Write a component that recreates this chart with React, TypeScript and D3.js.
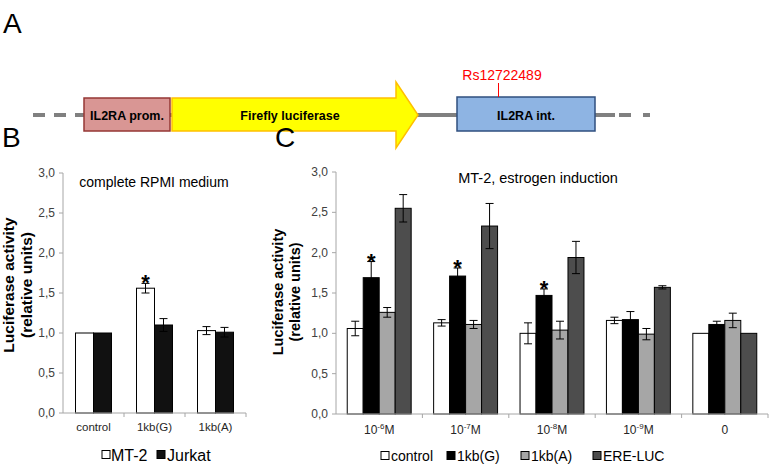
import React from 'react';
import * as d3 from 'd3';

// panel B data
const groupsB = ['control', '1kb(G)', '1kb(A)'];
const seriesB = ['MT-2', 'Jurkat'];
const mt2Values = [1.0, 1.56, 1.03];
const mt2Err = [0, 0.06, 0.05];
const jurkatValues = [1.0, 1.1, 1.01];
const jurkatErr = [0, 0.08, 0.06];
const mt2Stars = [false, true, false];

// panel C data
const doses = ['1e-6', '1e-7', '1e-8', '1e-9', '0'];
const doseExp = ['-6', '-7', '-8', '-9', ''];
const seriesC = ['control', '1kb(G)', '1kb(A)', 'ERE-LUC'];
const controlValues = [1.06, 1.13, 1.0, 1.16, 1.0];
const controlErr = [0.09, 0.04, 0.13, 0.04, 0];
const kbGValues = [1.69, 1.71, 1.47, 1.17, 1.11];
const kbGErr = [0.2, 0.1, 0.08, 0.1, 0.04];
const kbAValues = [1.26, 1.11, 1.04, 0.99, 1.16];
const kbAErr = [0.06, 0.05, 0.11, 0.07, 0.09];
const ereValues = [2.55, 2.33, 1.94, 1.57, 1.0];
const ereErr = [0.17, 0.28, 0.2, 0.02, 0];
const kbGStars = [true, true, true, false, false];

const yTicks = [0, 0.5, 1, 1.5, 2, 2.5, 3];
const fmt = (v: number) => v.toFixed(1).replace('.', ',');

const FONT = 'Liberation Sans, Arial, sans-serif';
const AXIS = '#a6a6a6';

interface Bar {
  group: string;
  series: string;
  value: number;
  err: number;
  star: boolean;
  fill: string;
}

function BarPanel(props: {
  groups: string[];
  series: string[];
  bars: Bar[];
  x0: number;
  x1: number;
  yTop: number;
  yBottom: number;
  padding: number;
  tickLabel: (g: string, i: number) => React.ReactNode;
  tickY: number;
  tickSize: number;
}) {
  const { groups, series, bars, x0, x1, yTop, yBottom, padding } = props;
  const x = d3.scaleBand<string>().domain(groups).range([x0, x1]).paddingInner(padding).paddingOuter(padding / 2);
  const xs = d3.scaleBand<string>().domain(series).range([0, x.bandwidth()]);
  const y = d3.scaleLinear().domain([0, 3]).range([yBottom, yTop]);
  const step = x.step();
  return (
    <g fontFamily={FONT}>
      {/* y axis */}
      <line x1={x0} x2={x0} y1={y(3)} y2={y(0)} stroke={AXIS} />
      {yTicks.map((t) => (
        <g key={t}>
          <line x1={x0 - 4} x2={x0} y1={y(t)} y2={y(t)} stroke={AXIS} />
          <text x={x0 - 8} y={y(t) + 4} fontSize={12} textAnchor="end" fill="#404040">
            {fmt(t)}
          </text>
        </g>
      ))}
      {/* bars */}
      {bars.map((b, i) => {
        const bx = (x(b.group) as number) + (xs(b.series) as number);
        const bw = xs.bandwidth();
        const cx = bx + bw / 2;
        return (
          <g key={i}>
            <rect x={bx} y={y(b.value)} width={bw} height={y(0) - y(b.value)} fill={b.fill} stroke="#000" strokeWidth={1} />
            {b.err > 0 && (
              <g stroke="#000" strokeWidth={1}>
                <line x1={cx} x2={cx} y1={y(b.value + b.err)} y2={y(b.value - b.err)} />
                <line x1={cx - 4} x2={cx + 4} y1={y(b.value + b.err)} y2={y(b.value + b.err)} />
                <line x1={cx - 4} x2={cx + 4} y1={y(b.value - b.err)} y2={y(b.value - b.err)} />
              </g>
            )}
            {b.star && (
              <text x={cx} y={y(b.value + b.err) + 7} fontSize={22} fontWeight="bold" textAnchor="middle">
                *
              </text>
            )}
          </g>
        );
      })}
      {/* x axis */}
      <line x1={x0} x2={x1} y1={y(0)} y2={y(0)} stroke={AXIS} />
      {groups.map((g, i) => (
        <g key={g}>
          <line x1={x0 + step * (i + 1)} x2={x0 + step * (i + 1)} y1={y(0)} y2={y(0) + 4} stroke={AXIS} />
          <text x={(x(g) as number) + x.bandwidth() / 2} y={props.tickY} fontSize={props.tickSize} textAnchor="middle" fill="#262626">
            {props.tickLabel(g, i)}
          </text>
        </g>
      ))}
    </g>
  );
}

function YLabel({ x1, x2, cy, size }: { x1: number; x2: number; cy: number; size: number }) {
  return (
    <g fontFamily={FONT} fontWeight="bold" fontSize={size} textAnchor="middle" fill="#000">
      <text transform={`translate(${x1},${cy}) rotate(-90)`}>Luciferase activity</text>
      <text transform={`translate(${x2},${cy}) rotate(-90)`}>(relative units)</text>
    </g>
  );
}

function Legend({ items, fills, xs, textXs, y, size }: { items: string[]; fills: string[]; xs: number[]; textXs: number[]; y: number; size: number }) {
  return (
    <g fontFamily={FONT} fontSize={size} fill="#000">
      {items.map((s, i) => (
        <g key={s}>
          <rect x={xs[i]} y={y - 4.5} width={8} height={8} fill={fills[i]} stroke="#000" strokeWidth={1} />
          <text x={textXs[i]} y={y + size * 0.36}>{s}</text>
        </g>
      ))}
    </g>
  );
}

function Construct() {
  const ly = 115;
  return (
    <g fontFamily={FONT}>
      <text x={3} y={33} fontSize={28} fill="#000">A</text>
      {/* backbone */}
      <g stroke="#808080" strokeWidth={4}>
        <line x1={33} x2={84} y1={ly} y2={ly} strokeDasharray="12,9" />
        <line x1={84} x2={615} y1={ly} y2={ly} />
        <line x1={615} x2={650} y1={ly} y2={ly} strokeDasharray="0,4,12,8" />
      </g>
      {/* promoter */}
      <rect x={84} y={98} width={86} height={33} fill="#d99694" stroke="#953735" strokeWidth={1.5} />
      <text x={127} y={120} fontSize={12.5} fontWeight="bold" textAnchor="middle">IL2RA prom.</text>
      {/* luciferase arrow */}
      <path d="M172,98 L396,98 L396,82 L418,115 L396,148 L396,131 L172,131 Z" fill="#ffff00" stroke="#ffc000" strokeWidth={1.5} />
      <text x={290} y={120} fontSize={12.5} fontWeight="bold" textAnchor="middle">Firefly luciferase</text>
      {/* intron */}
      <rect x={457} y={97} width={138} height={34} fill="#8eb4e3" stroke="#2f4f7f" strokeWidth={1.5} />
      <text x={526} y={120} fontSize={12.5} fontWeight="bold" textAnchor="middle">IL2RA int.</text>
      <line x1={498.5} x2={498.5} y1={83} y2={97} stroke="#ff0000" strokeWidth={1} />
      <text x={502} y={80} fontSize={14} fill="#ff0000" textAnchor="middle">Rs12722489</text>
    </g>
  );
}

export default function App() {
  const barsB: Bar[] = [];
  groupsB.forEach((g, i) => {
    barsB.push({ group: g, series: 'MT-2', value: mt2Values[i], err: mt2Err[i], star: mt2Stars[i], fill: '#ffffff' });
    barsB.push({ group: g, series: 'Jurkat', value: jurkatValues[i], err: jurkatErr[i], star: false, fill: '#111111' });
  });
  const fillsC = ['#ffffff', '#000000', '#a6a6a6', '#4d4d4d'];
  const valsC = [controlValues, kbGValues, kbAValues, ereValues];
  const errsC = [controlErr, kbGErr, kbAErr, ereErr];
  const barsC: Bar[] = [];
  doses.forEach((d, i) => {
    seriesC.forEach((s, j) => {
      barsC.push({ group: d, series: s, value: valsC[j][i], err: errsC[j][i], star: j === 1 && kbGStars[i], fill: fillsC[j] });
    });
  });

  return (
    <svg width={777} height={467} style={{ position: 'absolute', left: 0, top: 0, background: '#fff' }}>
      <rect width={777} height={467} fill="#fff" />
      <Construct />

      {/* panel B */}
      <text x={2} y={147} fontSize={28} fontFamily={FONT}>B</text>
      <YLabel x1={14} x2={32} cy={285} size={15.5} />
      <BarPanel
        groups={groupsB}
        series={seriesB}
        bars={barsB}
        x0={63}
        x1={246}
        yTop={173}
        yBottom={413}
        padding={0.41}
        tickY={431}
        tickSize={11.5}
        tickLabel={(g) => g}
      />
      <text x={154} y={187} fontSize={14} fontFamily={FONT} textAnchor="middle">complete RPMI medium</text>
      <Legend items={seriesB} fills={['#ffffff', '#111111']} xs={[102, 157]} textXs={[111, 167]} y={455} size={16} />

      {/* panel C */}
      <text x={275} y={147} fontSize={28} fontFamily={FONT}>C</text>
      <YLabel x1={283} x2={300} cy={292} size={14.5} />
      <BarPanel
        groups={doses}
        series={seriesC}
        bars={barsC}
        x0={336}
        x1={768}
        yTop={172}
        yBottom={414}
        padding={0.26}
        tickY={434}
        tickSize={12}
        tickLabel={(g, i) =>
          doseExp[i] ? (
            <>
              10<tspan fontSize={8} dy={-5}>{doseExp[i]}</tspan>
              <tspan dy={5}>M</tspan>
            </>
          ) : (
            g
          )
        }
      />
      <text x={538} y={183} fontSize={14.5} fontFamily={FONT} textAnchor="middle">MT-2, estrogen induction</text>
      <Legend items={seriesC} fills={fillsC} xs={[381, 447, 521, 593]} textXs={[391, 457, 531, 603]} y={456} size={14} />
    </svg>
  );
}
